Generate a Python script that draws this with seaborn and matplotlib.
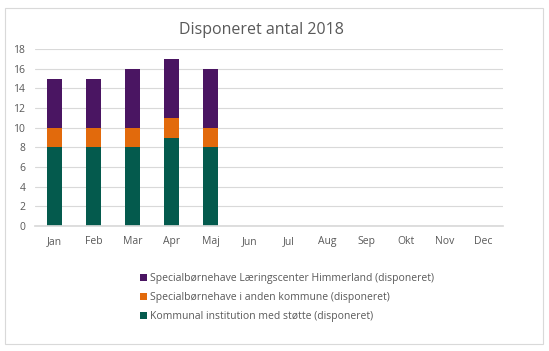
import numpy as np
import pandas as pd
import seaborn as sns
from matplotlib import pyplot as plt
from matplotlib.patches import Rectangle, Patch

months = ["Jan", "Feb", "Mar", "Apr", "Maj", "Jun", "Jul", "Aug", "Sep", "Okt", "Nov", "Dec"]
data_months = ["Jan", "Feb", "Mar", "Apr", "Maj"]
kommunal = [8, 8, 8, 9, 8]
anden = [2, 2, 2, 2, 2]
himmerland = [5, 5, 6, 6, 6]

labels = [
    "Specialbørnehave Læringscenter Himmerland (disponeret)",
    "Specialbørnehave i anden kommune (disponeret)",
    "Kommunal institution med støtte (disponeret)",
]
colors = ["#4A1562", "#E26A0C", "#045A4D"]

sns.set_theme(style="white")
plt.rcParams['font.family'] = ['Open Sans', 'DejaVu Sans']
text_col = "#595959"

df = pd.DataFrame({"month": data_months, "kommunal": kommunal,
                   "anden": anden, "himmerland": himmerland})
df["lvl2"] = df["kommunal"] + df["anden"]
df["lvl3"] = df["lvl2"] + df["himmerland"]

fig = plt.figure(figsize=(5.49, 3.51), dpi=100)
ax = fig.add_axes([35 / 549, 1 - 226 / 351, 468 / 549, 177 / 351])

# stablede søjler: totaler først, så de nederste dele ovenpå
for col, c in zip(["lvl3", "lvl2", "kommunal"], colors):
    sns.barplot(data=df, x="month", y=col, order=months, color=c,
                width=0.41, saturation=1, ax=ax, linewidth=0, edgecolor="none")

ax.set_ylim(0, 18)
ax.set_xlim(-0.5, 11.5)
ax.set_yticks(range(0, 19, 2))
ax.yaxis.grid(True, color="#D9D9D9", linewidth=0.8)
ax.set_axisbelow(True)
for s in ["top", "right", "left"]:
    ax.spines[s].set_visible(False)
ax.spines["bottom"].set_color("#D9D9D9")
ax.set_xlabel("")
ax.set_ylabel("")
ax.tick_params(axis="both", length=0, labelsize=7.5, colors=text_col, pad=7)

fig.text(261 / 549, 1 - 30 / 351, "Disponeret antal 2018", ha="center", va="center",
         fontsize=11.5, color=text_col)

handles = [Patch(facecolor=c, edgecolor="none") for c in colors]
fig.legend(handles, labels, loc="upper left", bbox_to_anchor=(131 / 549, 1 - 264 / 351),
           frameon=False, fontsize=7.5, labelcolor=text_col, handlelength=0.6,
           handleheight=0.6, handletextpad=0.3, labelspacing=0.75)

fig.patches.append(Rectangle((5 / 549, 1 - 344 / 351), 538 / 549, 336 / 351,
                             transform=fig.transFigure, fill=False,
                             edgecolor="#D9D9D9", linewidth=0.8))

fig.savefig("out.png", dpi=100)
